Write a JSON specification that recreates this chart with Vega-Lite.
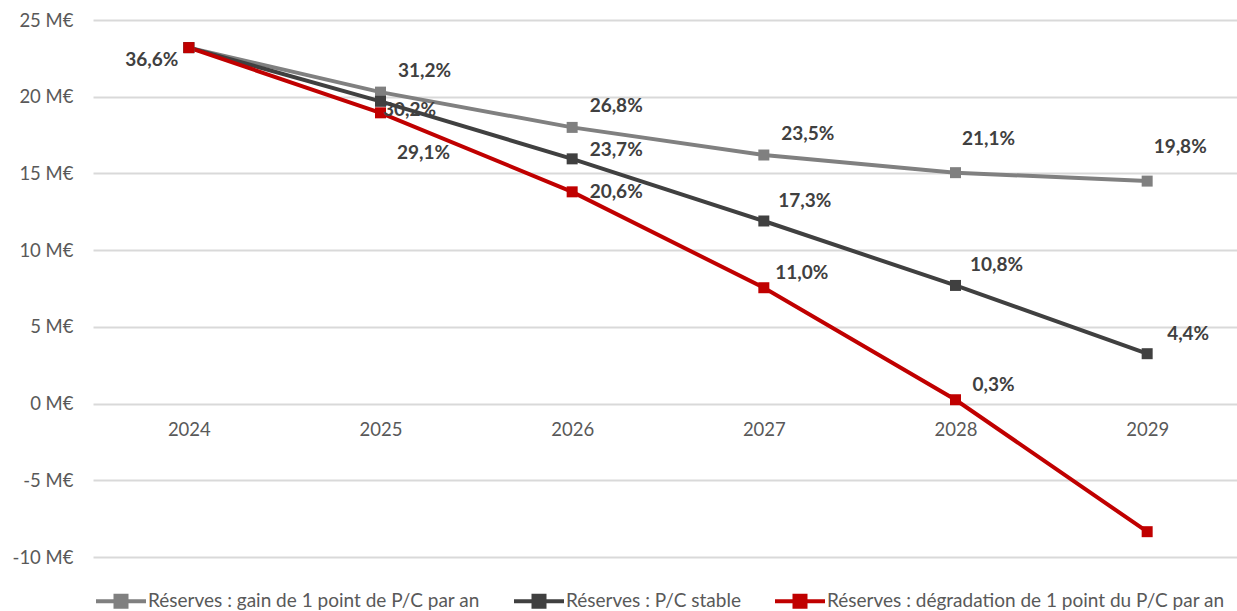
{
  "$schema": "https://vega.github.io/schema/vega-lite/v6.json",
  "width": 1144,
  "height": 537,
  "autosize": {"type": "none"},
  "padding": {"left": 93, "top": 20, "right": 0, "bottom": 54},
  "background": "white",
  "config": {
    "view": {"stroke": null},
    "font": "Lato",
    "axis": {"labelFont": "Lato", "labelColor": "#595959", "labelFontSize": 18.5}
  },
  "data": {
    "values": [
      {"year": "2024", "series": "Réserves : gain de 1 point de P/C par an", "value": 23.2, "label": null},
      {"year": "2025", "series": "Réserves : gain de 1 point de P/C par an", "value": 20.3, "label": "31,2%"},
      {"year": "2026", "series": "Réserves : gain de 1 point de P/C par an", "value": 18.0, "label": "26,8%"},
      {"year": "2027", "series": "Réserves : gain de 1 point de P/C par an", "value": 16.2, "label": "23,5%"},
      {"year": "2028", "series": "Réserves : gain de 1 point de P/C par an", "value": 15.05, "label": "21,1%"},
      {"year": "2029", "series": "Réserves : gain de 1 point de P/C par an", "value": 14.5, "label": "19,8%"},
      {"year": "2024", "series": "Réserves : P/C stable", "value": 23.2, "label": null},
      {"year": "2025", "series": "Réserves : P/C stable", "value": 19.7, "label": "30,2%"},
      {"year": "2026", "series": "Réserves : P/C stable", "value": 15.95, "label": "23,7%"},
      {"year": "2027", "series": "Réserves : P/C stable", "value": 11.9, "label": "17,3%"},
      {"year": "2028", "series": "Réserves : P/C stable", "value": 7.7, "label": "10,8%"},
      {"year": "2029", "series": "Réserves : P/C stable", "value": 3.25, "label": "4,4%"},
      {"year": "2024", "series": "Réserves : dégradation de 1 point du P/C par an", "value": 23.2, "label": "36,6%"},
      {"year": "2025", "series": "Réserves : dégradation de 1 point du P/C par an", "value": 18.95, "label": "29,1%"},
      {"year": "2026", "series": "Réserves : dégradation de 1 point du P/C par an", "value": 13.8, "label": "20,6%"},
      {"year": "2027", "series": "Réserves : dégradation de 1 point du P/C par an", "value": 7.55, "label": "11,0%"},
      {"year": "2028", "series": "Réserves : dégradation de 1 point du P/C par an", "value": 0.25, "label": "0,3%"},
      {"year": "2029", "series": "Réserves : dégradation de 1 point du P/C par an", "value": -8.35, "label": null}
    ]
  },
  "encoding": {
    "x": {
      "field": "year", "type": "ordinal",
      "scale": {"paddingInner": 0, "paddingOuter": 0, "range": [0, 1150]},
      "axis": {"title": null, "labelAngle": 0, "domain": false, "ticks": false, "offset": -153, "labelPadding": 16, "grid": false}
    },
    "y": {
      "field": "value", "type": "quantitative",
      "scale": {"domain": [-10, 25], "nice": false, "zero": false},
      "axis": {
        "title": null, "values": [-10, -5, 0, 5, 10, 15, 20, 25],
        "labelExpr": "datum.value + ' M€'",
        "domain": false, "ticks": false, "labelPadding": 20,
        "gridColor": "#d9d9d9", "gridWidth": 2
      }
    }
  },
  "layer": [
    {
      "mark": {"type": "line", "strokeWidth": 4, "point": {"shape": "square", "size": 121, "filled": true, "opacity": 1}},
      "encoding": {
        "color": {
          "field": "series", "type": "nominal",
          "scale": {
            "domain": ["Réserves : gain de 1 point de P/C par an", "Réserves : P/C stable", "Réserves : dégradation de 1 point du P/C par an"],
            "range": ["#808080", "#404040", "#c00000"]
          },
          "legend": {
            "title": null, "orient": "none", "direction": "horizontal",
            "legendX": 1, "legendY": 554,
            "symbolType": "M-1,0H1M-0.22,-0.22H0.22V0.22H-0.22Z",
            "symbolSize": 2500, "symbolStrokeWidth": 4,
            "labelFont": "Lato", "labelFontSize": 19, "labelColor": "#595959",
            "labelOffset": 0, "columnPadding": 26, "labelLimit": 500, "padding": 0,
            "encode": {"symbols": {"update": {"fill": {"scale": "color", "field": "value"}, "stroke": {"scale": "color", "field": "value"}, "opacity": {"value": 1}}}}
          }
        }
      }
    },
    {
      "transform": [{"filter": "datum.year == '2024' && datum.label != null"}],
      "mark": {"type": "text", "dx": -37, "dy": 12, "fontWeight": "bold", "fontSize": 19, "color": "#404040"},
      "encoding": {"text": {"field": "label"}}
    },
    {
      "transform": [{"filter": "datum.series == 'Réserves : gain de 1 point de P/C par an' && indexof(['2025','2026','2027'], datum.year) >= 0"}],
      "mark": {"type": "text", "dx": 44, "dy": -21, "fontWeight": "bold", "fontSize": 19, "color": "#404040"},
      "encoding": {"text": {"field": "label"}}
    },
    {
      "transform": [{"filter": "datum.series == 'Réserves : gain de 1 point de P/C par an' && indexof(['2028','2029'], datum.year) >= 0"}],
      "mark": {"type": "text", "dx": 33, "dy": -34, "fontWeight": "bold", "fontSize": 19, "color": "#404040"},
      "encoding": {"text": {"field": "label"}}
    },
    {
      "transform": [{"filter": "datum.series == 'Réserves : P/C stable' && datum.year == '2025'"}],
      "mark": {"type": "text", "dx": 29, "dy": 9, "fontWeight": "bold", "fontSize": 19, "color": "#404040"},
      "encoding": {"text": {"field": "label"}}
    },
    {
      "transform": [{"filter": "datum.series == 'Réserves : P/C stable' && datum.year == '2026'"}],
      "mark": {"type": "text", "dx": 44, "dy": -9, "fontWeight": "bold", "fontSize": 19, "color": "#404040"},
      "encoding": {"text": {"field": "label"}}
    },
    {
      "transform": [{"filter": "datum.series == 'Réserves : P/C stable' && indexof(['2027','2028','2029'], datum.year) >= 0"}],
      "mark": {"type": "text", "dx": 41, "dy": -20, "fontWeight": "bold", "fontSize": 19, "color": "#404040"},
      "encoding": {"text": {"field": "label"}}
    },
    {
      "transform": [{"filter": "datum.series == 'Réserves : dégradation de 1 point du P/C par an' && datum.year == '2025'"}],
      "mark": {"type": "text", "dx": 43, "dy": 40, "fontWeight": "bold", "fontSize": 19, "color": "#404040"},
      "encoding": {"text": {"field": "label"}}
    },
    {
      "transform": [{"filter": "datum.series == 'Réserves : dégradation de 1 point du P/C par an' && datum.year == '2026'"}],
      "mark": {"type": "text", "dx": 44, "dy": 0, "fontWeight": "bold", "fontSize": 19, "color": "#404040"},
      "encoding": {"text": {"field": "label"}}
    },
    {
      "transform": [{"filter": "datum.series == 'Réserves : dégradation de 1 point du P/C par an' && indexof(['2027','2028'], datum.year) >= 0"}],
      "mark": {"type": "text", "dx": 38, "dy": -15, "fontWeight": "bold", "fontSize": 19, "color": "#404040"},
      "encoding": {"text": {"field": "label"}}
    }
  ]
}
